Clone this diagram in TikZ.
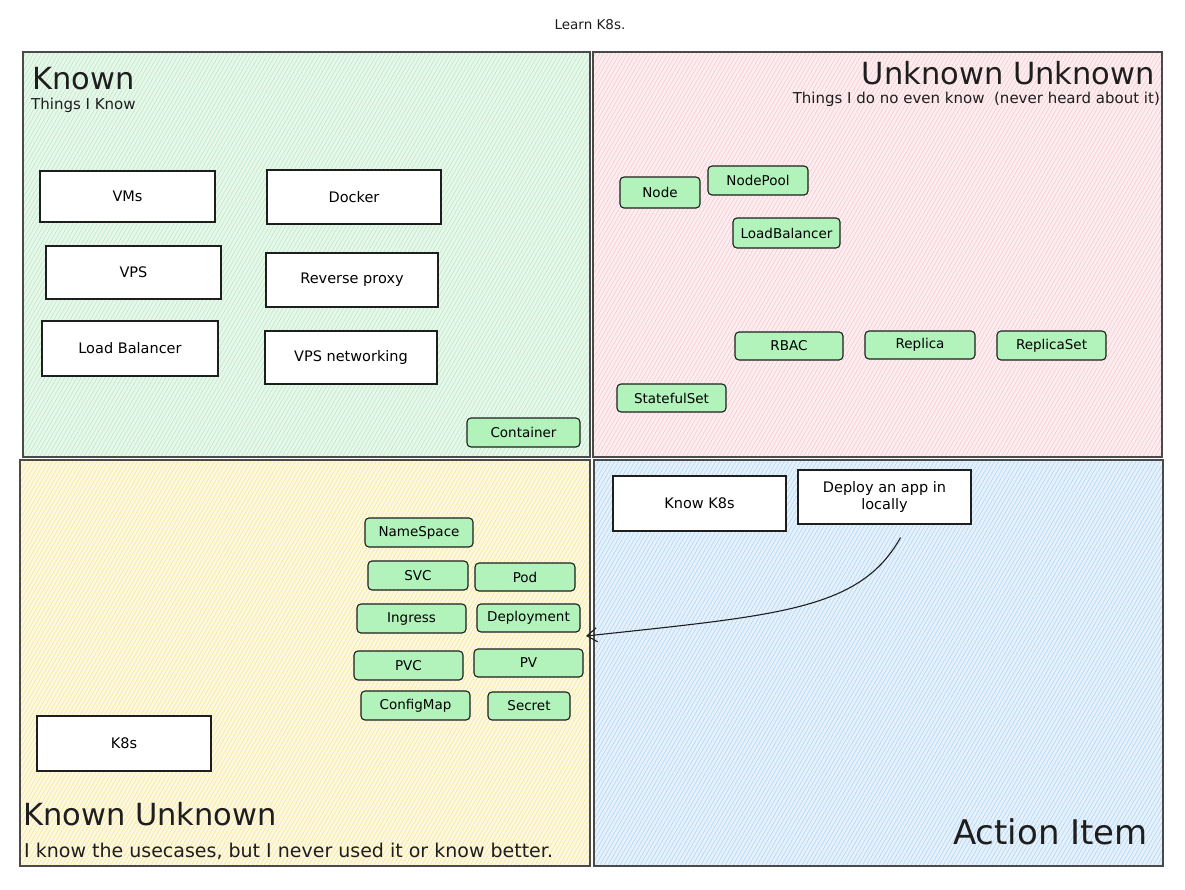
\documentclass[tikz,border=0pt]{standalone}
\usepackage{fontspec}
\setmainfont{DejaVu Sans}
\usetikzlibrary{patterns.meta,arrows.meta}
\definecolor{ink}{HTML}{1E1E1E}
\definecolor{quadline}{HTML}{4A4A4A}
\definecolor{gbg}{HTML}{E8F7EB}
\definecolor{ghatch}{HTML}{B8EAC0}
\definecolor{pbg}{HTML}{FCEEF0}
\definecolor{phatch}{HTML}{F7C8CE}
\definecolor{ybg}{HTML}{FDF8E0}
\definecolor{yhatch}{HTML}{F8E596}
\definecolor{bbg}{HTML}{E6F1FB}
\definecolor{bhatch}{HTML}{ADD5F4}
\definecolor{chip}{HTML}{B2F2BB}
\begin{document}
\begin{tikzpicture}[x=1pt,y=-1pt,
  quad/.style={draw=quadline,line width=1.3pt},
  wbox/.style={draw=ink,fill=white,line width=1.2pt,inner sep=0pt,align=center,font=\fontsize{14.5}{17}\selectfont},
  gbox/.style={draw=ink,fill=chip,line width=1.1pt,rounded corners=4pt,inner sep=0pt,font=\fontsize{13.5}{16}\selectfont},
  ttl/.style={font=\fontsize{30.5}{36}\selectfont,text=ink,inner sep=0pt},
  sub/.style={font=\fontsize{15}{18}\selectfont,text=ink,inner sep=0pt},
  hatch/.style={pattern={Lines[angle=60,distance=3.5pt,line width=0.55pt]}},
  conn/.style={draw=ink,line width=1.1pt,-{Straight Barb[length=10pt,width=14pt]}}
]
\useasboundingbox (0,0) rectangle (1185,889);
\fill[white] (0,0) rectangle (1185,889);

% quadrants
\fill[gbg] (23,52) rectangle (590,457);
\fill[hatch,pattern color=ghatch] (23,52) rectangle (590,457);
\draw[quad] (23,52) rectangle (590,457);

\fill[pbg] (593,52) rectangle (1162,457);
\fill[hatch,pattern color=phatch] (593,52) rectangle (1162,457);
\draw[quad] (593,52) rectangle (1162,457);

\fill[ybg] (20,460) rectangle (590,866);
\fill[hatch,pattern color=yhatch] (20,460) rectangle (590,866);
\draw[quad] (20,460) rectangle (590,866);

\fill[bbg] (594,460) rectangle (1163,866);
\fill[hatch,pattern color=bhatch] (594,460) rectangle (1163,866);
\draw[quad] (594,460) rectangle (1163,866);

% title
\node[font=\fontsize{13.5}{16}\selectfont,text=ink] (title) at (590,25) {Learn K8s.};

% Known
\node[ttl,anchor=west] (knownT) at (32,79) {Known};
\node[sub,anchor=west] (knownS) at (31,105) {Things I Know};
\node[wbox,minimum width=175pt,minimum height=51pt] (vms) at (127.5,196.5) {VMs};
\node[wbox,minimum width=174pt,minimum height=54pt] (docker) at (354,197) {Docker};
\node[wbox,minimum width=175pt,minimum height=53pt] (vps) at (133.5,272.5) {VPS};
\node[wbox,minimum width=172pt,minimum height=54pt] (rproxy) at (352,280) {Reverse proxy};
\node[wbox,minimum width=176pt,minimum height=55pt] (lb) at (130,348.5) {Load Balancer};
\node[wbox,minimum width=172pt,minimum height=53pt] (vpsnet) at (351,357.5) {VPS networking};
\node[gbox,minimum width=113pt,minimum height=29pt] (container) at (523.5,432.5) {Container};

% Unknown Unknown
\node[ttl,anchor=east] (uuT) at (1155,73) {Unknown Unknown};
\node[sub,anchor=east] (uuS) at (1160,99) {Things I do no even know\ \ (never heard about it)};
\node[gbox,minimum width=80pt,minimum height=31pt] (node) at (660,192.5) {Node};
\node[gbox,minimum width=100pt,minimum height=29pt] (nodepool) at (758,180.5) {NodePool};
\node[gbox,minimum width=107pt,minimum height=30pt] (loadbal) at (786.5,233) {LoadBalancer};
\node[gbox,minimum width=108pt,minimum height=28pt] (rbac) at (789,346) {RBAC};
\node[gbox,minimum width=110pt,minimum height=28pt] (replica) at (920,345) {Replica};
\node[gbox,minimum width=109pt,minimum height=29pt] (replicaset) at (1051.5,345.5) {ReplicaSet};
\node[gbox,minimum width=109pt,minimum height=28pt] (stateful) at (671.5,398) {StatefulSet};

% Known Unknown
\node[gbox,minimum width=108pt,minimum height=29pt] (namespace) at (419,532.5) {NameSpace};
\node[gbox,minimum width=100pt,minimum height=29pt] (svc) at (418,575.5) {SVC};
\node[gbox,minimum width=100pt,minimum height=28pt] (pod) at (525,577) {Pod};
\node[gbox,minimum width=109pt,minimum height=29pt] (ingress) at (411.5,618.5) {Ingress};
\node[gbox,minimum width=103pt,minimum height=28pt] (deployment) at (528.5,618) {Deployment};
\node[gbox,minimum width=109pt,minimum height=29pt] (pvc) at (408.5,665.5) {PVC};
\node[gbox,minimum width=109pt,minimum height=28pt] (pv) at (528.5,663) {PV};
\node[gbox,minimum width=109pt,minimum height=29pt] (configmap) at (415.5,705.5) {ConfigMap};
\node[gbox,minimum width=82pt,minimum height=28pt] (secret) at (529,706) {Secret};
\node[wbox,minimum width=174pt,minimum height=55pt] (k8s) at (124,743.5) {K8s};
\node[ttl,anchor=west] (kuT) at (23,814) {Known Unknown};
\node[sub,anchor=west,font=\fontsize{19}{22}\selectfont] (kuS) at (24,851) {I know the usecases, but I never used it or know better.};

% Action Item
\node[wbox,minimum width=173pt,minimum height=55pt] (knowk8s) at (699.5,503.5) {Know K8s};
\node[wbox,minimum width=173pt,minimum height=54pt] (deploy) at (884.5,497) {Deploy an app in\\locally};
\node[ttl,anchor=east,font=\fontsize{34}{40}\selectfont] (aiT) at (1148,832) {Action Item};

% arrow
\coordinate (arrowend) at (586,636);
\draw[conn] ([xshift=16pt,yshift=-13pt]deploy.south) .. controls (860,610) and (780,615) .. (arrowend);
\end{tikzpicture}
\end{document}
